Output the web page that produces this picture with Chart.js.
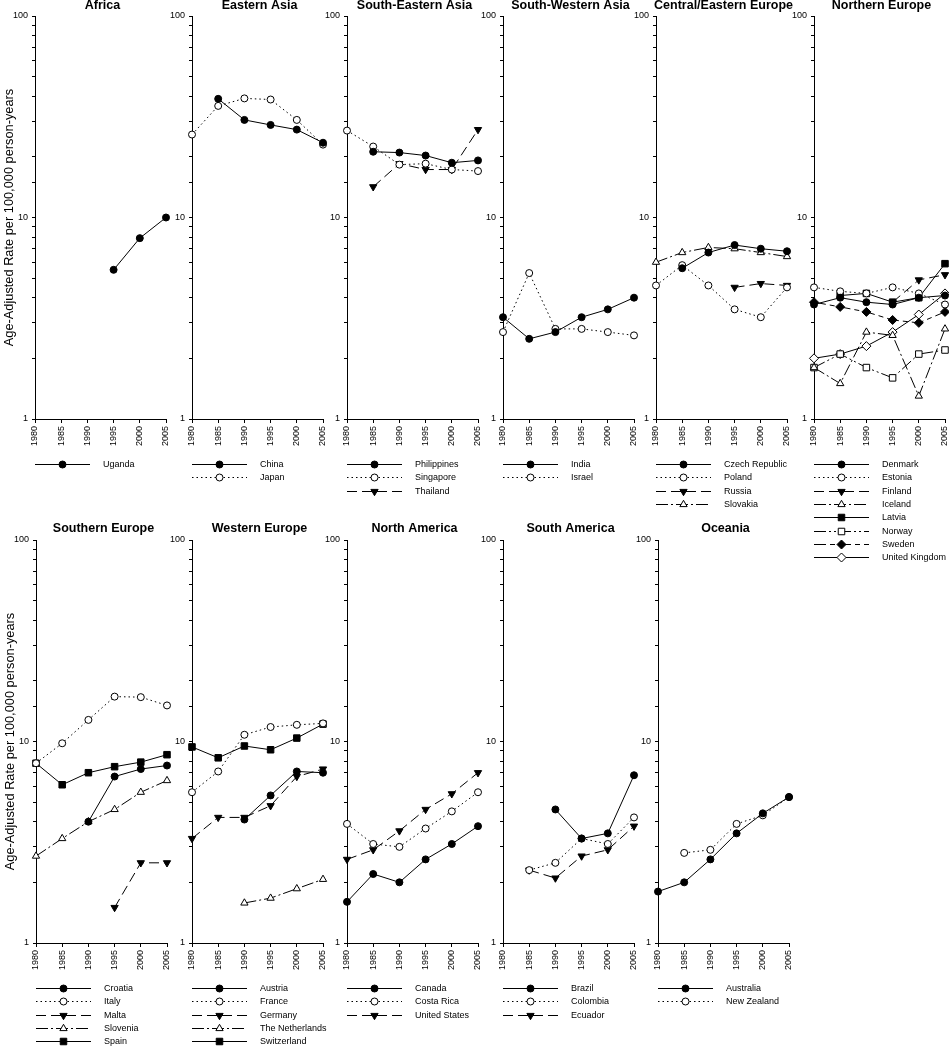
<!DOCTYPE html>
<html>
<head>
<meta charset="utf-8">
<script src="https://cdn.jsdelivr.net/npm/chart.js@4.4.1/dist/chart.umd.min.js"></script>
<style>
  html, body { margin: 0; padding: 0; background: #fff; overflow: hidden; }
  body { position: relative; width: 949px; height: 1050px; }
  canvas { position: absolute; }
</style>
</head>
<body>
<script>
// years on the x axis
const years = [1980, 1985, 1990, 1995, 2000, 2005];

// Africa
const uganda = [null, null, null, 5.5, 7.9, 10];
// Eastern Asia
const china = [null, 38.8, 30.5, 28.8, 27.3, 23.5];
const japan = [25.8, 35.8, 39, 38.5, 30.5, 23];
// South-Eastern Asia
const philippines = [null, 21.2, 21, 20.3, 18.7, 19.2];
const singapore = [27, 22.5, 18.3, 18.5, 17.3, 17];
const thailand = [null, 14.2, 18.5, 17.3, 17.3, 27.3];
// South-Western Asia
const india = [3.2, 2.5, 2.7, 3.2, 3.5, 4.0];
const israel = [2.7, 5.3, 2.8, 2.8, 2.7, 2.6];
// Central/Eastern Europe
const czech = [null, 5.6, 6.7, 7.3, 7.0, 6.8];
const poland = [4.6, 5.8, 4.6, 3.5, 3.2, 4.5];
const russia = [null, null, null, 4.5, 4.7, 4.6];
const slovakia = [6.0, 6.7, 7.1, 7.0, 6.7, 6.4];
// Northern Europe
const denmark = [3.7, 4.0, 3.8, 3.7, 4.0, 4.1];
const estonia = [4.5, 4.3, 4.2, 4.5, 4.2, 3.7];
const finland = [null, null, null, 3.8, 4.9, 5.2];
const iceland = [1.8, 1.5, 2.7, 2.6, 1.3, 2.8];
const latvia = [null, 4.1, 4.2, 3.8, 4.0, 5.9];
const norway = [1.8, 2.1, 1.8, 1.6, 2.1, 2.2];
const sweden = [3.8, 3.6, 3.4, 3.1, 3.0, 3.4];
const unitedKingdom = [2.0, 2.1, 2.3, 2.7, 3.3, 4.2];
// Southern Europe
const croatia = [null, null, 4.0, 6.7, 7.3, 7.6];
const italy = [7.8, 9.8, 12.8, 16.7, 16.6, 15.1];
const malta = [null, null, null, 1.5, 2.5, 2.5];
const slovenia = [2.7, 3.3, 4.0, 4.6, 5.6, 6.4];
const spain = [7.8, 6.1, 7.0, 7.5, 7.9, 8.6];
// Western Europe
const austria = [null, null, 4.1, 5.4, 7.1, 7.0];
const france = [5.6, 7.1, 10.8, 11.8, 12.1, 12.3];
const germany = [3.3, 4.2, 4.2, 4.8, 6.7, 7.3];
const netherlands = [null, null, 1.58, 1.67, 1.86, 2.07];
const switzerland = [9.4, 8.3, 9.5, 9.1, 10.4, 12.2];
// North America
const canada = [1.6, 2.2, 2.0, 2.6, 3.1, 3.8];
const costaRica = [3.9, 3.1, 3.0, 3.7, 4.5, 5.6];
const unitedStates = [2.6, 2.9, 3.6, 4.6, 5.5, 7.0];
// South America
const brazil = [null, null, 4.6, 3.3, 3.5, 6.8];
const colombia = [null, 2.3, 2.5, 3.3, 3.1, 4.2];
const ecuador = [null, 2.3, 2.1, 2.7, 2.9, 3.8];
// Oceania
const australia = [1.8, 2.0, 2.6, 3.5, 4.4, 5.3];
const newZealand = [null, 2.8, 2.9, 3.9, 4.3, 5.3];

const yTitle = "Age-Adjusted Rate per 100,000 person-years";

const panels = [
  { title: "Africa", row: 0, col: 0, series: [["Uganda", uganda]] },
  { title: "Eastern Asia", row: 0, col: 1, series: [["China", china], ["Japan", japan]] },
  { title: "South-Eastern Asia", row: 0, col: 2, series: [["Philippines", philippines], ["Singapore", singapore], ["Thailand", thailand]] },
  { title: "South-Western Asia", row: 0, col: 3, series: [["India", india], ["Israel", israel]] },
  { title: "Central/Eastern Europe", row: 0, col: 4, series: [["Czech Republic", czech], ["Poland", poland], ["Russia", russia], ["Slovakia", slovakia]] },
  { title: "Northern Europe", row: 0, col: 5, series: [["Denmark", denmark], ["Estonia", estonia], ["Finland", finland], ["Iceland", iceland], ["Latvia", latvia], ["Norway", norway], ["Sweden", sweden], ["United Kingdom", unitedKingdom]] },
  { title: "Southern Europe", row: 1, col: 0, series: [["Croatia", croatia], ["Italy", italy], ["Malta", malta], ["Slovenia", slovenia], ["Spain", spain]] },
  { title: "Western Europe", row: 1, col: 1, series: [["Austria", austria], ["France", france], ["Germany", germany], ["The Netherlands", netherlands], ["Switzerland", switzerland]] },
  { title: "North America", row: 1, col: 2, series: [["Canada", canada], ["Costa Rica", costaRica], ["United States", unitedStates]] },
  { title: "South America", row: 1, col: 3, series: [["Brazil", brazil], ["Colombia", colombia], ["Ecuador", ecuador]] },
  { title: "Oceania", row: 1, col: 4, series: [["Australia", australia], ["New Zealand", newZealand]] },
];

// line / marker style by position in the legend
const styles = [
  { dash: [], point: "circle", rot: 0, fill: "#000", r: 3.5 },
  { dash: [1.5, 3], point: "circle", rot: 0, fill: "#fff", r: 3.5 },
  { dash: [10, 5], point: "triangle", rot: 180, fill: "#000", r: 4.2 },
  { dash: [12, 3, 2, 3], point: "triangle", rot: 0, fill: "#fff", r: 4.2 },
  { dash: [], point: "rect", rot: 0, fill: "#000", r: 4.6 },
  { dash: [12, 3, 2, 3, 2, 3], point: "rect", rot: 0, fill: "#fff", r: 4.6 },
  { dash: [12, 4, 5, 4], point: "rectRot", rot: 0, fill: "#000", r: 4.5 },
  { dash: [], point: "rectRot", rot: 0, fill: "#fff", r: 4.5 },
];

// layout
const axisX = [[35, 192, 347, 503, 656, 814], [36, 192, 347, 503, 658]];
const rowTop = [0, 520];
const rowHeight = [600, 530];
const padTop = [16, 20];
const plotBottom = [419, 423]; // relative to canvas top
const titleGap = [10, 11];
const yAxisW = 35, xAxisH = 30, plotW = 131, padRight = 30;
const FONT = '"Liberation Sans", Arial, sans-serif';

function drawMarker(ctx, s, x, y) {
  const r = s.r;
  ctx.beginPath();
  if (s.point === "circle") {
    ctx.arc(x, y, r, 0, Math.PI * 2);
  } else if (s.point === "rect") {
    const h = r * Math.SQRT1_2;
    ctx.rect(x - h, y - h, 2 * h, 2 * h);
  } else if (s.point === "rectRot") {
    ctx.moveTo(x, y - r); ctx.lineTo(x + r, y); ctx.lineTo(x, y + r); ctx.lineTo(x - r, y); ctx.closePath();
  } else {
    let a = s.rot * Math.PI / 180;
    for (let k = 0; k < 3; k++) {
      const px = x + Math.sin(a) * r, py = y - Math.cos(a) * r;
      k ? ctx.lineTo(px, py) : ctx.moveTo(px, py);
      a += Math.PI * 2 / 3;
    }
    ctx.closePath();
  }
  ctx.fillStyle = s.fill;
  ctx.fill();
  ctx.strokeStyle = "#000";
  ctx.lineWidth = 1;
  ctx.stroke();
}

// panel title and legend under each plot
const panelDeco = {
  id: "panelDeco",
  afterDraw(chart, args, opts) {
    const ctx = chart.ctx;
    const area = chart.chartArea;
    ctx.save();
    ctx.fillStyle = "#000";
    ctx.font = "bold 12.5px " + FONT;
    ctx.textAlign = "center";
    ctx.textBaseline = "middle";
    ctx.fillText(opts.title, (area.left + area.right) / 2 + 2, area.top - opts.titleGap);

    ctx.font = "9px " + FONT;
    ctx.textAlign = "left";
    opts.items.forEach((it, i) => {
      const y = Math.round(area.bottom + 45 + i * 13.3) + 0.5;
      const x0 = area.left, x1 = area.left + 55;
      ctx.setLineDash(it.style.dash);
      ctx.strokeStyle = "#000";
      ctx.lineWidth = 1;
      ctx.beginPath(); ctx.moveTo(x0, y); ctx.lineTo(x1, y); ctx.stroke();
      ctx.setLineDash([]);
      drawMarker(ctx, it.style, (x0 + x1) / 2, y);
      ctx.fillStyle = "#000";
      ctx.fillText(it.label, area.left + 68, y);
    });
    ctx.restore();
  }
};

panels.forEach((p) => {
  const ax = axisX[p.row][p.col];
  const cv = document.createElement("canvas");
  const W = yAxisW + plotW + padRight;
  const H = rowHeight[p.row];
  cv.width = W; cv.height = H;
  cv.style.left = (ax - yAxisW) + "px";
  cv.style.top = rowTop[p.row] + "px";
  document.body.appendChild(cv);

  const datasets = p.series.map(([name, vals], i) => {
    const s = styles[i];
    return {
      label: name,
      data: years.map((yr, k) => ({ x: yr, y: vals[k] })),
      borderColor: "#000",
      borderWidth: 1,
      borderDash: s.dash,
      pointStyle: s.point,
      pointRotation: s.rot,
      pointRadius: s.r,
      pointBackgroundColor: s.fill,
      pointBorderColor: "#000",
      pointBorderWidth: 1,
      tension: 0,
      spanGaps: true,
      clip: false,
    };
  });

  new Chart(cv, {
    type: "line",
    data: { datasets: datasets },
    plugins: [panelDeco],
    options: {
      responsive: false,
      animation: false,
      events: [],
      layout: {
        padding: {
          top: padTop[p.row],
          left: 0,
          right: padRight,
          bottom: H - plotBottom[p.row] - xAxisH,
        },
      },
      plugins: {
        legend: { display: false },
        tooltip: { enabled: false },
        panelDeco: {
          title: p.title,
          titleGap: titleGap[p.row],
          items: p.series.map(([name], i) => ({ label: name, style: styles[i] })),
        },
      },
      scales: {
        x: {
          type: "linear",
          min: 1980,
          max: 2005,
          afterFit(scale) { scale.height = xAxisH; },
          ticks: {
            stepSize: 5,
            minRotation: 90,
            maxRotation: 90,
            color: "#000",
            padding: 3,
            font: { size: 9, family: FONT },
            callback: (v) => String(v),
          },
          grid: { display: true, drawOnChartArea: false, drawTicks: true, tickLength: 4, color: "#000" },
          border: { display: true, color: "#000", width: 1 },
        },
        y: {
          type: "logarithmic",
          min: 1,
          max: 100,
          afterFit(scale) { scale.width = yAxisW; },
          title: {
            display: p.col === 0,
            text: yTitle,
            color: "#000",
            padding: { top: 2, bottom: 0 },
            font: { size: 12.8, family: FONT },
          },
          ticks: {
            autoSkip: false,
            color: "#000",
            padding: 4,
            font: { size: 9, family: FONT },
            callback: (v) => ([1, 10, 100].includes(v) ? String(v) : ""),
          },
          grid: { display: true, drawOnChartArea: false, drawTicks: true, tickLength: 3, color: "#000" },
          border: { display: true, color: "#000", width: 1 },
        },
      },
    },
  });
});
</script>
</body>
</html>
